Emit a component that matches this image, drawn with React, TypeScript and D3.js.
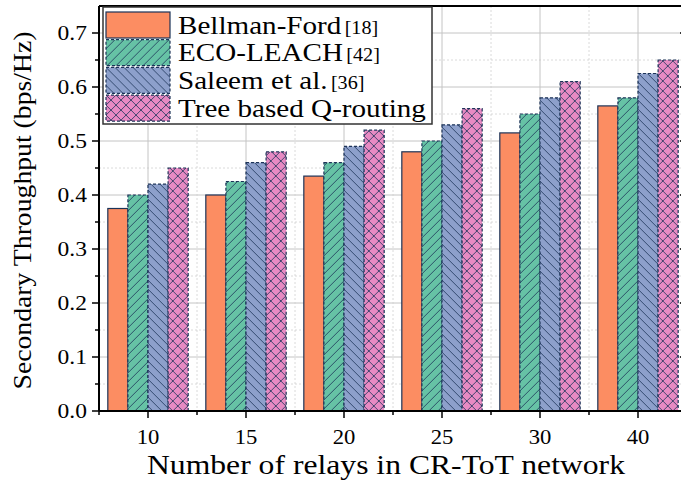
import * as d3 from 'd3'

const categories = ['10', '15', '20', '25', '30', '40']
const seriesNames = ['Bellman-Ford', 'ECO-LEACH', 'Saleem et al.', 'Tree based Q-routing']
const seriesRefs = ['[18]', '[42]', '[36]', '']
const bellmanFord = [0.375, 0.4, 0.435, 0.48, 0.515, 0.565]
const ecoLeach = [0.4, 0.425, 0.46, 0.5, 0.55, 0.58]
const saleem = [0.42, 0.46, 0.49, 0.53, 0.58, 0.625]
const treeQ = [0.45, 0.48, 0.52, 0.56, 0.61, 0.65]
const yTicks = [0, 0.1, 0.2, 0.3, 0.4, 0.5, 0.6, 0.7]

const colors = ['#fc8d62', '#66c2a5', '#8da0cb', '#e78ac3']
const fills = ['#fc8d62', 'url(#hatch-eco)', 'url(#hatch-saleem)', 'url(#hatch-tree)']
const edge = '#1c3358'
const font = '"Times New Roman", "Liberation Serif", serif'

export default function App() {
  const width = 681
  const height = 482
  const margin = { top: 6, right: -6, bottom: 71, left: 99 }
  const innerW = width - margin.left - margin.right
  const innerH = height - margin.top - margin.bottom
  const series = [bellmanFord, ecoLeach, saleem, treeQ]

  const x = d3.scaleBand().domain(categories).range([0, innerW]).paddingInner(0.18).paddingOuter(0.09)
  const step = x.step()
  const xs = d3.scaleBand().domain(d3.range(4).map(String)).range([0, x.bandwidth()])
  const y = d3.scaleLinear().domain([0, 0.75]).range([innerH, 0])
  const minorY = d3.range(0.05, 0.75, 0.1)
  const centers = categories.map(c => (x(c) ?? 0) + x.bandwidth() / 2)
  const mids = centers.map(c => c + step / 2).filter(v => v < innerW)

  // 45 degree hatch that tiles seamlessly: dir 1 = "\", -1 = "/"
  const hatch = (id: string, color: string, s: number, dirs: number[]) => (
    <pattern id={id} patternUnits="userSpaceOnUse" width={s} height={s}>
      <rect width={s} height={s} fill={color} />
      {dirs.map(d =>
        [-s, 0, s].map(o =>
          d > 0 ? (
            <line key={d + '_' + o} x1={o} y1={0} x2={o + s} y2={s} stroke={edge} strokeWidth={0.8} />
          ) : (
            <line key={d + '_' + o} x1={o} y1={s} x2={o + s} y2={0} stroke={edge} strokeWidth={0.8} />
          )
        )
      )}
    </pattern>
  )

  return (
    <svg width={width} height={height} style={{ position: 'absolute', left: 0, top: 0, background: '#fff' }}>
      <defs>
        {hatch('hatch-eco', colors[1], 9, [-1])}
        {hatch('hatch-saleem', colors[2], 9, [1])}
        {hatch('hatch-tree', colors[3], 10, [1, -1])}
      </defs>
      <g transform={`translate(${margin.left},${margin.top})`}>
        {minorY.map(t => (
          <line key={'my' + t} x1={0} x2={innerW} y1={y(t)} y2={y(t)} stroke="#d0d0d0" strokeWidth={0.8} strokeDasharray="2,2" />
        ))}
        {yTicks.slice(1).map(t => (
          <line key={'gy' + t} x1={0} x2={innerW} y1={y(t)} y2={y(t)} stroke="#c4c4c4" strokeWidth={1} />
        ))}
        {mids.map(m => (
          <line key={'mx' + m} x1={m} x2={m} y1={0} y2={innerH} stroke="#d0d0d0" strokeWidth={0.8} strokeDasharray="2,2" />
        ))}
        {centers.map(c => (
          <line key={'gx' + c} x1={c} x2={c} y1={0} y2={innerH} stroke="#c4c4c4" strokeWidth={1} />
        ))}

        {categories.map((c, ci) => (
          <g key={c} transform={`translate(${x(c)},0)`}>
            {series.map((s, si) => (
              <rect
                key={si}
                x={xs(String(si))}
                y={y(s[ci])}
                width={xs.bandwidth()}
                height={innerH - y(s[ci])}
                fill={fills[si]}
                stroke={edge}
                strokeWidth={1.2}
                strokeDasharray={si === 0 ? undefined : '3,2'}
              />
            ))}
          </g>
        ))}

        {/* axes frame */}
        <line x1={0} x2={0} y1={0} y2={innerH} stroke="#000" strokeWidth={2} />
        <line x1={0} x2={innerW} y1={innerH} y2={innerH} stroke="#000" strokeWidth={2} />
        <line x1={0} x2={innerW} y1={0} y2={0} stroke="#000" strokeWidth={2} />
        <line x1={innerW} x2={innerW} y1={0} y2={innerH} stroke="#000" strokeWidth={2} />

        {yTicks.map(t => (
          <g key={'yt' + t}>
            <line x1={-7} x2={0} y1={y(t)} y2={y(t)} stroke="#000" strokeWidth={1.5} />
            <line x1={innerW - 7} x2={innerW} y1={y(t)} y2={y(t)} stroke="#000" strokeWidth={1.5} />
            <text
              transform={`translate(${-12},${y(t)}) scale(1.12,1)`}
              dy="0.35em"
              textAnchor="end"
              fontFamily={font}
              fontSize={21}
            >
              {t.toFixed(1)}
            </text>
          </g>
        ))}
        {minorY.map(t => (
          <g key={'ymt' + t}>
            <line x1={-4} x2={0} y1={y(t)} y2={y(t)} stroke="#000" strokeWidth={1.5} />
            <line x1={innerW - 4} x2={innerW} y1={y(t)} y2={y(t)} stroke="#000" strokeWidth={1.5} />
          </g>
        ))}
        {categories.map((c, ci) => (
          <g key={'xt' + c}>
            <line x1={centers[ci]} x2={centers[ci]} y1={innerH} y2={innerH + 7} stroke="#000" strokeWidth={1.5} />
            <text
              transform={`translate(${centers[ci]},${innerH + 26}) scale(1.08,1)`}
              dy="0.35em"
              textAnchor="middle"
              fontFamily={font}
              fontSize={21}
            >
              {c}
            </text>
          </g>
        ))}
        {[0, ...mids].map(m => (
          <line key={'xmt' + m} x1={m} x2={m} y1={innerH} y2={innerH + 4} stroke="#000" strokeWidth={1.5} />
        ))}

        <text
          x={innerW / 2 - 7}
          y={innerH + 63}
          textAnchor="middle"
          fontFamily={font}
          fontSize={27}
          textLength={478}
          lengthAdjust="spacingAndGlyphs"
        >
          Number of relays in CR-ToT network
        </text>
        <text
          transform={`translate(${-68},${innerH / 2 + 2}) rotate(-90)`}
          textAnchor="middle"
          fontFamily={font}
          fontSize={25}
          textLength={358}
          lengthAdjust="spacingAndGlyphs"
        >
          Secondary Throughput (bps/Hz)
        </text>

        {/* legend */}
        <g transform="translate(4,1)">
          <rect x={0} y={0} width={329} height={117} fill="#fff" stroke="#333" strokeWidth={1.5} />
          {seriesNames.map((n, i) => (
            <g key={n} transform={`translate(3,${5 + i * 27.7})`}>
              <rect
                x={0}
                y={0}
                width={64}
                height={26}
                fill={fills[i]}
                stroke={edge}
                strokeWidth={1.2}
                strokeDasharray={i === 0 ? undefined : '3,2'}
              />
              <text transform="translate(72,13) scale(1.12,1)" dy="0.33em" fontFamily={font} fontSize={26}>
                {n}
                {seriesRefs[i] && (
                  <tspan fontSize={18} dx={3}>
                    {seriesRefs[i]}
                  </tspan>
                )}
              </text>
            </g>
          ))}
        </g>
      </g>
    </svg>
  )
}
